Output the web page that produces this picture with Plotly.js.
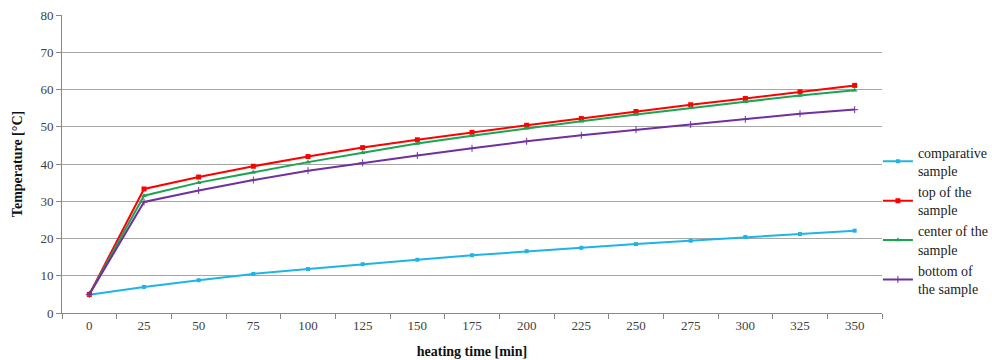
<!DOCTYPE html>
<html>
<head>
<meta charset="utf-8">
<script src="https://cdn.plot.ly/plotly-3.0.1.min.js"></script>
<style>html,body{margin:0;padding:0;background:#fff;}#chart{width:992px;height:360px;}</style>
</head>
<body>
<div id="chart"></div>
<script>
// Heating time in minutes (category axis)
const heatingTime = ['0','25','50','75','100','125','150','175','200','225','250','275','300','325','350'];

// Temperatures in °C
const comparativeSample = [4.9, 7.0, 8.8, 10.5, 11.8, 13.1, 14.3, 15.5, 16.6, 17.5, 18.5, 19.4, 20.4, 21.2, 22.1];
const topOfSample       = [5.0, 33.3, 36.5, 39.4, 42.0, 44.4, 46.5, 48.5, 50.4, 52.2, 54.1, 55.9, 57.6, 59.4, 61.1];
const centerOfSample    = [5.0, 31.5, 35.0, 37.8, 40.5, 43.0, 45.5, 47.6, 49.6, 51.5, 53.3, 55.1, 56.7, 58.4, 59.8];
const bottomOfSample    = [5.0, 29.8, 32.9, 35.7, 38.2, 40.3, 42.3, 44.2, 46.1, 47.7, 49.2, 50.6, 52.0, 53.5, 54.6];

const seriesNames = ['comparative<br>sample', 'top of the<br>sample', 'center of the<br>sample', 'bottom of<br>the sample'];

const serif = 'Liberation Serif, Times New Roman, serif';

function series(name, y, color, symbol, size) {
  return {
    type: 'scatter', mode: 'lines+markers', name: name,
    x: heatingTime, y: y,
    line: {color: color, width: 2},
    marker: {color: color, symbol: symbol, size: size}
  };
}

const data = [
  series(seriesNames[0], comparativeSample, '#1fb4e8', 'square', 4),
  series(seriesNames[1], topOfSample, '#ff0000', 'square', 5),
  series(seriesNames[2], centerOfSample, '#1ca550', 'triangle-up', 5),
  series(seriesNames[3], bottomOfSample, '#7030a0', 'cross-thin-open', 5)
];

const layout = {
  width: 992, height: 360,
  margin: {l: 62, r: 110, t: 15, b: 47, autoexpand: false},
  paper_bgcolor: '#ffffff', plot_bgcolor: '#ffffff',
  font: {family: serif, size: 13, color: '#404040'},
  showlegend: true,
  legend: {
    x: 0.995, xanchor: 'left', y: 0.31, yanchor: 'middle',
    font: {family: serif, size: 14, color: '#222'},
    itemwidth: 30, tracegroupgap: 4,
    bgcolor: 'rgba(0,0,0,0)'
  },
  xaxis: {
    type: 'category',
    range: [-0.5, 14.5],
    showline: true, linecolor: '#888', linewidth: 1,
    ticks: 'outside', tickson: 'boundaries', ticklen: 5, tickcolor: '#888',
    showgrid: false, zeroline: false,
    tickfont: {family: serif, size: 13, color: '#404040'},
    title: {text: 'heating time [min]', font: {family: serif, size: 14, color: '#111', weight: 'bold'}, standoff: 14}
  },
  yaxis: {
    range: [0, 80], dtick: 10,
    showline: true, linecolor: '#888', linewidth: 1,
    ticks: 'outside', ticklen: 5, tickcolor: '#888',
    showgrid: true, gridcolor: '#a6a6a6', gridwidth: 1, zeroline: false,
    tickfont: {family: serif, size: 13, color: '#404040'},
    title: {text: 'Temperature [°C]', font: {family: serif, size: 14, color: '#111', weight: 'bold'}, standoff: 14}
  }
};

Plotly.newPlot('chart', data, layout, {displayModeBar: false, staticPlot: true});
</script>
</body>
</html>
